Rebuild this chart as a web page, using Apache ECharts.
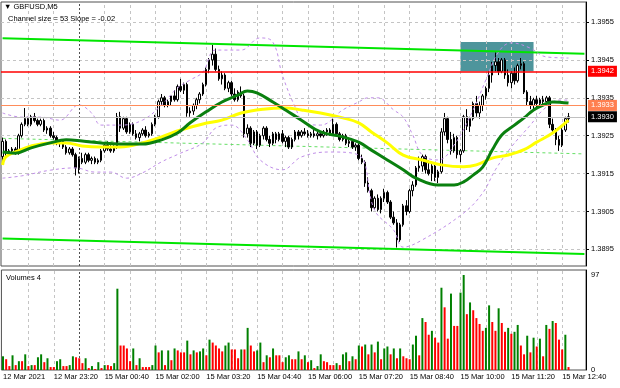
<!DOCTYPE html>
<html><head><meta charset="utf-8">
<script src="https://cdn.jsdelivr.net/npm/echarts@6/dist/echarts.min.js"></script>
<style>html,body{margin:0;padding:0;background:#fff}#c{width:620px;height:388px}</style>
</head><body><div id="c"></div>
<script>
// ---- tick labels ----
const timeLabels = ["12 Mar 2021","12 Mar 23:20","15 Mar 00:40","15 Mar 02:00","15 Mar 03:20","15 Mar 04:40","15 Mar 06:00","15 Mar 07:20","15 Mar 08:40","15 Mar 10:00","15 Mar 11:20","15 Mar 12:40"];
const priceTicks = [1.3895,1.3905,1.3915,1.3925,1.3935,1.3945,1.3955];
const volumeTicks = [0,97];
// ---- candles (M5) ----
const opens = [1.39195,1.39235,1.39205,1.39210,1.39215,1.39205,1.39250,1.39280,1.39295,1.39280,
1.39300,1.39290,1.39280,1.39290,1.39265,1.39270,1.39250,1.39245,1.39230,1.39235,
1.39220,1.39205,1.39215,1.39200,1.39165,1.39190,1.39180,1.39200,1.39185,1.39190,
1.39180,1.39185,1.39210,1.39225,1.39215,1.39210,1.39220,1.39300,1.39270,1.39295,
1.39260,1.39280,1.39255,1.39245,1.39255,1.39265,1.39250,1.39255,1.39280,1.39300,
1.39340,1.39350,1.39330,1.39340,1.39355,1.39345,1.39380,1.39370,1.39385,1.39310,
1.39315,1.39330,1.39345,1.39360,1.39385,1.39425,1.39450,1.39465,1.39425,1.39400,
1.39410,1.39375,1.39390,1.39360,1.39345,1.39365,1.39355,1.39255,1.39270,1.39230,
1.39260,1.39225,1.39250,1.39270,1.39240,1.39230,1.39255,1.39240,1.39255,1.39235,
1.39245,1.39220,1.39240,1.39260,1.39250,1.39260,1.39255,1.39250,1.39255,1.39250,
1.39255,1.39250,1.39260,1.39265,1.39255,1.39280,1.39255,1.39240,1.39250,1.39230,
1.39235,1.39220,1.39225,1.39190,1.39180,1.39125,1.39105,1.39060,1.39085,1.39055,
1.39085,1.39100,1.39075,1.39035,1.39020,1.38975,1.39015,1.39065,1.39050,1.39105,
1.39120,1.39165,1.39170,1.39195,1.39160,1.39150,1.39170,1.39140,1.39155,1.39260,
1.39295,1.39240,1.39210,1.39245,1.39200,1.39210,1.39300,1.39275,1.39295,1.39335,
1.39310,1.39330,1.39355,1.39375,1.39410,1.39435,1.39445,1.39420,1.39450,1.39410,
1.39390,1.39415,1.39395,1.39435,1.39440,1.39365,1.39340,1.39330,1.39345,1.39335,
1.39345,1.39340,1.39350,1.39280,1.39265,1.39240,1.39225,1.39265,1.39295];
const closes = [1.39235,1.39205,1.39210,1.39215,1.39205,1.39250,1.39280,1.39295,1.39280,1.39300,
1.39290,1.39280,1.39290,1.39265,1.39270,1.39250,1.39245,1.39230,1.39235,1.39220,
1.39205,1.39215,1.39200,1.39165,1.39190,1.39180,1.39200,1.39185,1.39190,1.39180,
1.39185,1.39210,1.39225,1.39215,1.39210,1.39220,1.39300,1.39270,1.39295,1.39260,
1.39280,1.39255,1.39245,1.39255,1.39265,1.39250,1.39255,1.39280,1.39300,1.39340,
1.39350,1.39330,1.39340,1.39355,1.39345,1.39380,1.39370,1.39385,1.39310,1.39315,
1.39330,1.39345,1.39360,1.39385,1.39425,1.39450,1.39465,1.39425,1.39400,1.39410,
1.39375,1.39390,1.39360,1.39345,1.39365,1.39355,1.39255,1.39270,1.39230,1.39260,
1.39225,1.39250,1.39270,1.39240,1.39230,1.39255,1.39240,1.39255,1.39235,1.39245,
1.39220,1.39240,1.39260,1.39250,1.39260,1.39255,1.39250,1.39255,1.39250,1.39255,
1.39250,1.39260,1.39265,1.39255,1.39280,1.39255,1.39240,1.39250,1.39230,1.39235,
1.39220,1.39225,1.39190,1.39180,1.39125,1.39105,1.39060,1.39085,1.39055,1.39085,
1.39100,1.39075,1.39035,1.39020,1.38975,1.39015,1.39065,1.39050,1.39105,1.39120,
1.39165,1.39170,1.39195,1.39160,1.39150,1.39170,1.39140,1.39155,1.39260,1.39295,
1.39240,1.39210,1.39245,1.39200,1.39210,1.39300,1.39275,1.39295,1.39335,1.39310,
1.39330,1.39355,1.39375,1.39410,1.39435,1.39445,1.39420,1.39450,1.39410,1.39390,
1.39415,1.39395,1.39435,1.39440,1.39365,1.39340,1.39330,1.39345,1.39335,1.39345,
1.39340,1.39350,1.39280,1.39265,1.39240,1.39225,1.39265,1.39295,1.39300];
const highs = [1.39245,1.39240,1.39215,1.39220,1.39220,1.39255,1.39285,1.39323,1.39300,1.39305,
1.39310,1.39295,1.39295,1.39295,1.39275,1.39275,1.39260,1.39250,1.39240,1.39240,
1.39225,1.39220,1.39220,1.39205,1.39195,1.39205,1.39205,1.39205,1.39195,1.39195,
1.39190,1.39215,1.39230,1.39235,1.39225,1.39225,1.39310,1.39313,1.39300,1.39300,
1.39285,1.39285,1.39265,1.39260,1.39270,1.39275,1.39260,1.39285,1.39305,1.39345,
1.39360,1.39355,1.39345,1.39355,1.39370,1.39385,1.39400,1.39390,1.39390,1.39325,
1.39335,1.39350,1.39365,1.39390,1.39430,1.39455,1.39490,1.39480,1.39435,1.39420,
1.39415,1.39395,1.39395,1.39375,1.39370,1.39380,1.39360,1.39280,1.39275,1.39265,
1.39265,1.39255,1.39275,1.39275,1.39250,1.39260,1.39260,1.39260,1.39265,1.39250,
1.39250,1.39245,1.39265,1.39265,1.39265,1.39270,1.39265,1.39260,1.39265,1.39260,
1.39260,1.39265,1.39270,1.39270,1.39295,1.39285,1.39260,1.39255,1.39255,1.39240,
1.39240,1.39230,1.39230,1.39200,1.39185,1.39140,1.39110,1.39090,1.39095,1.39090,
1.39110,1.39105,1.39080,1.39050,1.39030,1.39020,1.39070,1.39080,1.39110,1.39130,
1.39170,1.39195,1.39200,1.39200,1.39185,1.39175,1.39175,1.39160,1.39270,1.39310,
1.39300,1.39260,1.39255,1.39250,1.39215,1.39305,1.39320,1.39300,1.39340,1.39355,
1.39340,1.39360,1.39380,1.39420,1.39445,1.39470,1.39455,1.39455,1.39455,1.39425,
1.39420,1.39430,1.39440,1.39455,1.39445,1.39370,1.39355,1.39350,1.39355,1.39350,
1.39355,1.39355,1.39355,1.39295,1.39270,1.39250,1.39270,1.39300,1.39310];
const lows = [1.39180,1.39195,1.39200,1.39205,1.39200,1.39200,1.39245,1.39275,1.39275,1.39275,
1.39285,1.39275,1.39275,1.39260,1.39255,1.39245,1.39240,1.39225,1.39220,1.39215,
1.39200,1.39200,1.39195,1.39145,1.39150,1.39175,1.39175,1.39180,1.39175,1.39175,
1.39175,1.39180,1.39205,1.39210,1.39205,1.39205,1.39215,1.39260,1.39265,1.39255,
1.39255,1.39250,1.39240,1.39235,1.39250,1.39245,1.39245,1.39250,1.39275,1.39295,
1.39330,1.39325,1.39325,1.39330,1.39340,1.39340,1.39365,1.39360,1.39300,1.39300,
1.39305,1.39320,1.39335,1.39355,1.39380,1.39415,1.39435,1.39420,1.39395,1.39385,
1.39370,1.39365,1.39355,1.39340,1.39340,1.39350,1.39245,1.39245,1.39220,1.39225,
1.39215,1.39220,1.39240,1.39235,1.39220,1.39225,1.39230,1.39235,1.39230,1.39220,
1.39215,1.39215,1.39235,1.39240,1.39245,1.39250,1.39245,1.39245,1.39245,1.39240,
1.39245,1.39245,1.39250,1.39250,1.39250,1.39250,1.39235,1.39235,1.39225,1.39220,
1.39215,1.39210,1.39185,1.39175,1.39115,1.39100,1.39050,1.39055,1.39050,1.39045,
1.39075,1.39070,1.39030,1.39015,1.38955,1.38970,1.39010,1.39040,1.39045,1.39090,
1.39115,1.39155,1.39155,1.39150,1.39145,1.39130,1.39130,1.39125,1.39150,1.39250,
1.39230,1.39200,1.39205,1.39190,1.39180,1.39205,1.39265,1.39260,1.39290,1.39300,
1.39295,1.39315,1.39345,1.39365,1.39390,1.39420,1.39410,1.39415,1.39400,1.39380,
1.39375,1.39385,1.39390,1.39425,1.39360,1.39330,1.39320,1.39320,1.39325,1.39325,
1.39330,1.39330,1.39270,1.39255,1.39225,1.39210,1.39220,1.39260,1.39285];
const volumes = [14,11,4,15,5,9,9,16,4,5,
5,13,16,8,12,3,3,9,11,4,
4,5,14,13,12,7,12,2,4,1,
8,2,5,5,4,7,83,25,25,22,
9,22,5,12,3,3,3,5,25,18,
20,5,20,10,22,20,18,18,30,16,
20,18,19,22,15,31,28,25,22,19,
25,28,21,21,12,21,21,43,25,19,
20,28,8,15,13,22,15,15,8,13,
15,11,11,19,11,15,8,
10,2,4,16,9,8,5,5,7,5,
16,18,9,14,11,25,24,26,16,26,
18,29,11,22,24,16,22,12,22,14,
12,11,26,35,15,53,49,36,40,33,
28,84,64,32,78,45,45,79,97,57,
69,61,53,47,40,43,66,49,40,63,
48,39,43,37,39,46,25,16,35,18,
33,24,32,14,46,42,50,48,31,21,
36,3];
// ---- indicators: [bar index, price] ----
const maSlow = [[0,1.39173],[1,1.39194],[4,1.39207],[9,1.39223],[15,1.39231],[20,1.39231],[25,1.39223],[31,1.39220],[37,1.39220],[44,1.39231],[50,1.39247],[56,1.39265],[63,1.39281],[69,1.39291],[75,1.39310],[82,1.39320],[89,1.39323],[94,1.39318],[100,1.39310],[107,1.39297],[112,1.39284],[116,1.39260],[121,1.39231],[126,1.39199],[132,1.39186],[138,1.39173],[145,1.39168],[149,1.39173],[154,1.39191],[159,1.39199],[164,1.39213],[168,1.39233],[173,1.39257],[178,1.39291]];
const maFast = [[0,1.39207],[4,1.39204],[9,1.39218],[15,1.39231],[20,1.39239],[25,1.39236],[31,1.39231],[37,1.39228],[44,1.39228],[50,1.39239],[55,1.39257],[59,1.39284],[64,1.39313],[69,1.39339],[74,1.39357],[77,1.39368],[80,1.39363],[85,1.39339],[89,1.39318],[94,1.39291],[100,1.39260],[107,1.39247],[112,1.39233],[116,1.39212],[121,1.39186],[126,1.39160],[130,1.39138],[137,1.39120],[142,1.39120],[145,1.39128],[148,1.39146],[151,1.39167],[154,1.39212],[157,1.39252],[161,1.39278],[164,1.39297],[167,1.39318],[170,1.39331],[173,1.39339],[178,1.39336]];
const bandUpper = [[0,1.39310],[6,1.39299],[12,1.39299],[18,1.39291],[24,1.39331],[28,1.39310],[31,1.39278],[37,1.39278],[44,1.39291],[50,1.39331],[55,1.39376],[59,1.39397],[63,1.39418],[67,1.39476],[75,1.39476],[81,1.39508],[85,1.39497],[88,1.39410],[92,1.39326],[95,1.39284],[100,1.39278],[107,1.39318],[112,1.39339],[115,1.39350],[118,1.39350],[123,1.39318],[126,1.39299],[129,1.39252],[132,1.39199],[137,1.39186],[142,1.39225],[148,1.39318],[152,1.39397],[156,1.39471],[160,1.39495],[166,1.39481],[171,1.39458],[178,1.39455]];
const bandLower = [[0,1.39138],[6,1.39144],[15,1.39159],[23,1.39165],[29,1.39154],[34,1.39154],[39,1.39138],[44,1.39152],[50,1.39181],[56,1.39204],[63,1.39231],[67,1.39270],[72,1.39278],[77,1.39239],[81,1.39186],[88,1.39160],[94,1.39194],[103,1.39207],[112,1.39199],[117,1.39054],[123,1.39001],[126,1.38956],[132,1.38975],[145,1.39046],[151,1.39099],[155,1.39160],[160,1.39220],[166,1.39278],[170,1.39318],[175,1.39344],[178,1.39344]];
const channelUpper = [[0,1.39507],[183,1.39466]];
const channelMid = [[0,1.39243],[183,1.39202]];
const channelLower = [[0,1.38979],[183,1.38938]];
const levelRed = 1.3942, levelOrange = 1.3933, bidPrice = 1.3930;
const zoneBars = [144,167], zonePrices = [1.3942,1.39497];
const N_CAT = 184;

const FONT = 'Liberation Sans';
const cats = Array.from({length:N_CAT},(_,i)=>String(i));
const candles = opens.map((o,i)=>[o, closes[i], lows[i], highs[i]]);
const volData = volumes.map((v,i)=>({value:v, itemStyle:{color:(i===0||v>volumes[i-1])?'#008000':'#ff0000'}}));
const vLines = [];
for (let i=8;i<N_CAT;i+=8){
  if (i===24) vLines.push({xAxis:i, lineStyle:{color:'#505050', type:[2,2], width:1}});
  else vLines.push({xAxis:i, lineStyle:{color:'#c4c4c4', type:[3,3], width:1}});
}
const hLines = priceTicks.map(v=>({yAxis:v, lineStyle:{color:'#c4c4c4', type:[3,3], width:1}}));
function tag(val, bg, lineColor, w){
  return {yAxis:val, lineStyle:{color:lineColor, width:w, type:'solid'},
    label:{show:true, position:'end', distance:2, formatter:val.toFixed(4), backgroundColor:bg, color:'#fff',
      padding:[2,3,1,3], fontSize:7.5, fontFamily:FONT}};
}
const chart = echarts.init(document.getElementById('c'), null, {renderer:'canvas'});
chart.setOption({
  animation:false, backgroundColor:'#ffffff',
  grid:[
    {left:1, right:34, top:2, height:264, show:true, borderColor:'#505050', borderWidth:1},
    {left:1, right:34, top:270, height:100, show:true, borderColor:'#505050', borderWidth:1}
  ],
  xAxis:[
    {type:'category', gridIndex:0, data:cats, boundaryGap:true, axisLine:{show:false}, axisTick:{show:false}, axisLabel:{show:false}, splitLine:{show:false}},
    {type:'category', gridIndex:1, data:cats, boundaryGap:true, axisLine:{show:false}, axisTick:{show:false}, splitLine:{show:false},
      axisLabel:{show:true, interval:15, align:'left', margin:3, fontSize:7.5, fontFamily:FONT, color:'#000',
        formatter:(v,idx)=> (idx%16===0 && timeLabels[idx/16]) ? timeLabels[idx/16] : ''}}
  ],
  yAxis:[
    {type:'value', gridIndex:0, position:'right', min:1.389062, max:1.396028, splitLine:{show:false},
      axisLine:{show:true, lineStyle:{color:'#000'}}, axisTick:{show:true, length:3, customValues:priceTicks, lineStyle:{color:'#000'}},
      axisLabel:{show:true, customValues:priceTicks, margin:5, fontSize:7.5, fontFamily:FONT, color:'#000', formatter:v=>v.toFixed(4)}},
    {type:'value', gridIndex:1, position:'right', min:0, max:102.1, splitLine:{show:false},
      axisLine:{show:true, lineStyle:{color:'#000'}}, axisTick:{show:false},
      axisLabel:{show:true, customValues:volumeTicks, margin:5, fontSize:7.5, fontFamily:FONT, color:'#000', formatter:v=>String(v)}}
  ],
  series:[
    {type:'line', xAxisIndex:0, yAxisIndex:0, data:[[0,1.392]], symbol:'none', lineStyle:{opacity:0}, z:1,
      markLine:{silent:true, symbol:'none', precision:6, z:1, label:{show:false}, data:hLines.concat(vLines)},
      markArea:{silent:true, z:1, itemStyle:{color:'#4e959c', opacity:1}, data:[[{xAxis:zoneBars[0], yAxis:zonePrices[0]},{xAxis:zoneBars[1], yAxis:zonePrices[1]}]]}},
    {type:'line', xAxisIndex:1, yAxisIndex:1, data:[[0,0]], symbol:'none', lineStyle:{opacity:0}, z:1,
      markLine:{silent:true, symbol:'none', precision:6, z:1, label:{show:false}, data:vLines}},
    {type:'line', data:channelMid, symbol:'none', z:2, lineStyle:{color:'#66e066', width:1, type:[3,3]}},
    {type:'line', data:channelUpper, symbol:'none', z:3, lineStyle:{color:'#00e600', width:2}},
    {type:'line', data:channelLower, symbol:'none', z:3, lineStyle:{color:'#00e600', width:2}},
    {type:'candlestick', xAxisIndex:0, yAxisIndex:0, data:candles, barWidth:2, z:2,
      itemStyle:{color:'#ffffff', color0:'#000000', borderColor:'#000000', borderColor0:'#000000', borderWidth:1}},
    {type:'line', xAxisIndex:0, yAxisIndex:0, data:[[0,1.392]], symbol:'none', lineStyle:{opacity:0}, z:5,
      markLine:{silent:true, symbol:'none', precision:6, z:5, data:[
        tag(bidPrice,'#000000','#c0c0c0',1),
        tag(levelOrange,'#ff7f50','#ff8c5a',1),
        tag(levelRed,'#ff0000','#ff0000',1.5)
      ]}},
    {type:'line', data:bandUpper, symbol:'none', smooth:0.4, z:3, lineStyle:{color:'#c08ee8', width:1, type:[3,3]}},
    {type:'line', data:bandLower, symbol:'none', smooth:0.4, z:3, lineStyle:{color:'#c08ee8', width:1, type:[3,3]}},
    {type:'line', data:maSlow, symbol:'none', smooth:0.4, z:4, lineStyle:{color:'#ffff00', width:3}},
    {type:'line', data:maFast, symbol:'none', smooth:0.4, z:4, lineStyle:{color:'#0a800f', width:3}},
    {type:'bar', xAxisIndex:1, yAxisIndex:1, data:volData, barWidth:2, z:2}
  ],
  graphic:[
    {type:'text', left:4, top:3, style:{text:'▼ GBPUSD,M5', font:'7.5px "Liberation Sans"', fill:'#000'}},
    {type:'text', left:8, top:15, style:{text:'Channel size = 53 Slope = -0.02', font:'7.5px "Liberation Sans"', fill:'#000'}},
    {type:'text', left:6, top:274, style:{text:'Volumes 4', font:'7.5px "Liberation Sans"', fill:'#000'}}
  ]
});
</script></body></html>
